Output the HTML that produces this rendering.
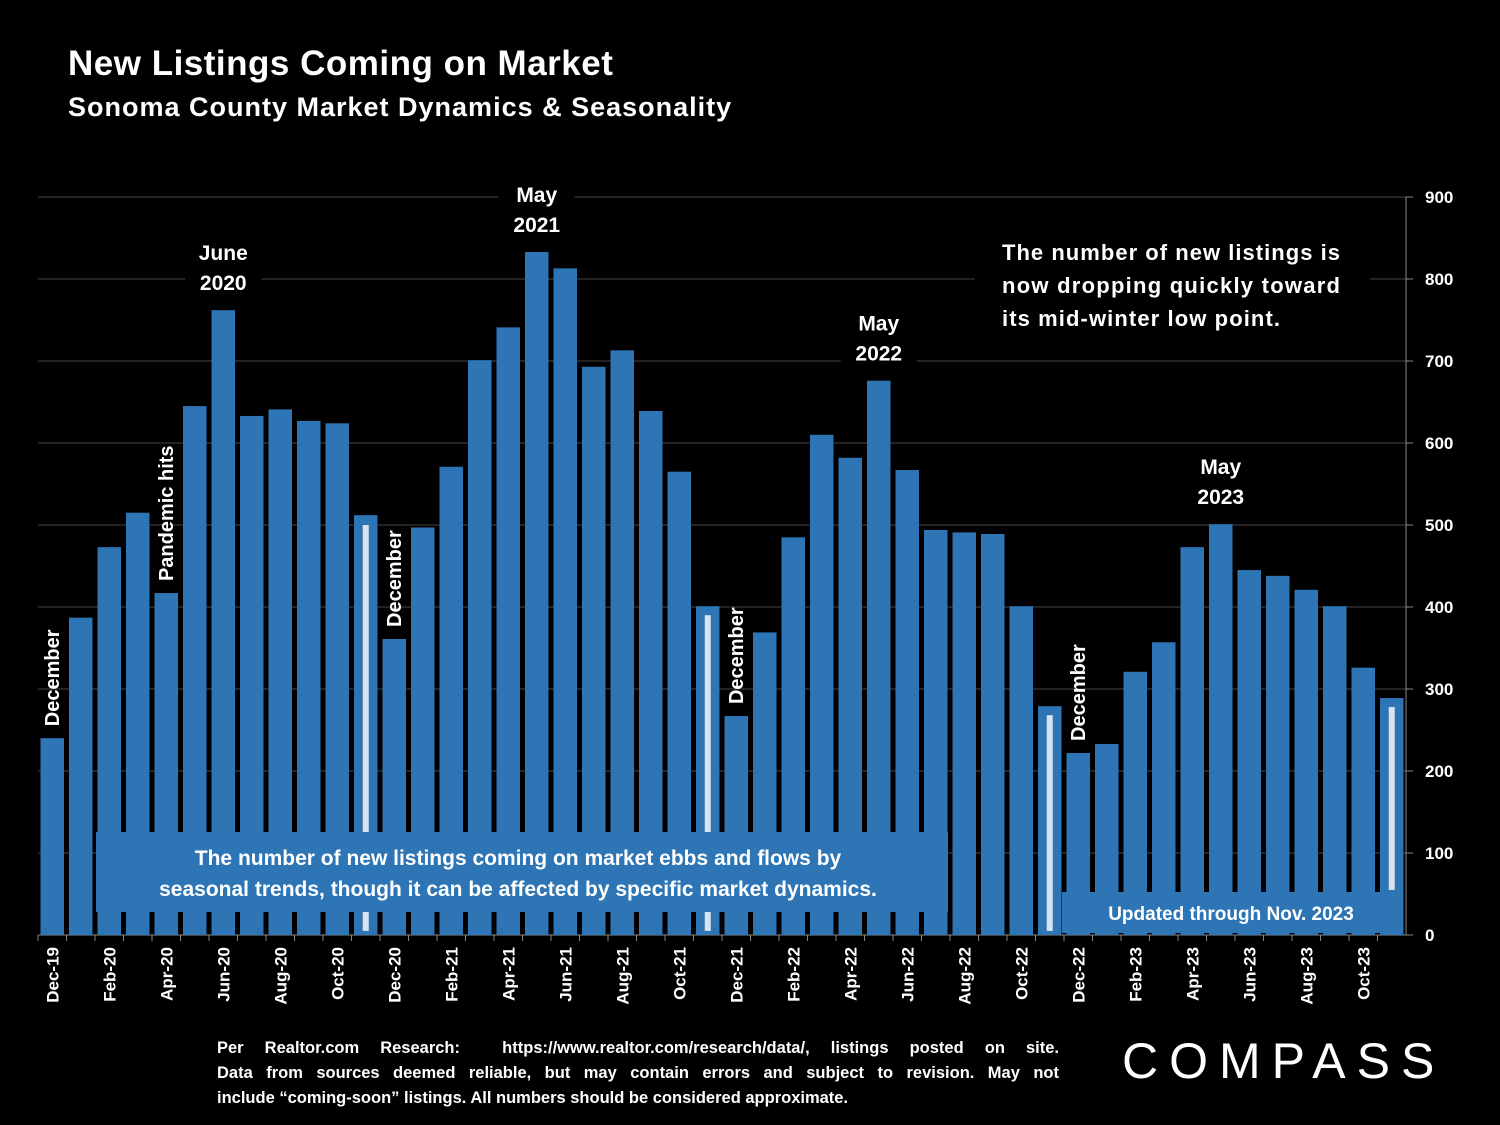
<!DOCTYPE html>
<html><head><meta charset="utf-8"><style>
body{margin:0;background:#000;width:1500px;height:1125px;overflow:hidden;font-family:"Liberation Sans",sans-serif;color:#fff}
#wrap{position:relative;width:1500px;height:1125px}
.t{position:absolute;font-weight:bold;color:#fff}
.fl{display:block;text-align:justify;text-align-last:justify;white-space:nowrap}
</style></head><body><div id="wrap">
<div class="t" style="left:68px;top:44px;font-size:35px;letter-spacing:0.5px">New Listings Coming on Market</div>
<div class="t" style="left:68px;top:92px;font-size:27px;letter-spacing:1px">Sonoma County Market Dynamics &amp; Seasonality</div>
<svg id="chart" width="1500" height="1125" style="position:absolute;left:0;top:0"></svg>
<div class="t" style="left:217px;top:1036px;width:842px;font-size:16.5px;line-height:25px">
<span class="fl">Per Realtor.com Research: &nbsp;https://www.realtor.com/research/data/, listings posted on site.</span>
<span class="fl">Data from sources deemed reliable, but may contain errors and subject to revision. May not</span>
<span style="display:block">include “coming-soon” listings. All numbers should be considered approximate.</span></div>
<div class="t" style="left:1122px;top:1032px;font-size:50px;font-weight:normal;letter-spacing:11px">COMPASS</div>
</div>
<script>
const months=["Dec-19","Jan-20","Feb-20","Mar-20","Apr-20","May-20","Jun-20","Jul-20","Aug-20","Sep-20","Oct-20","Nov-20","Dec-20","Jan-21","Feb-21","Mar-21","Apr-21","May-21","Jun-21","Jul-21","Aug-21","Sep-21","Oct-21","Nov-21","Dec-21","Jan-22","Feb-22","Mar-22","Apr-22","May-22","Jun-22","Jul-22","Aug-22","Sep-22","Oct-22","Nov-22","Dec-22","Jan-23","Feb-23","Mar-23","Apr-23","May-23","Jun-23","Jul-23","Aug-23","Sep-23","Oct-23","Nov-23"];
const values=[240,387,473,515,417,645,762,633,641,627,624,512,361,497,571,701,741,833,813,693,713,639,565,401,267,369,485,610,582,676,567,494,491,489,401,279,222,233,321,357,473,501,445,438,421,401,326,289];
const yTicks=[0,100,200,300,400,500,600,700,800,900];
const dividerMonths=["Nov-20","Nov-21","Nov-22","Nov-23"];
const dividerTops=[500,390,268,278];
const dividerBottoms=[5,5,5,55];
const notes=[["Dec-19","December",0],["Apr-20","Pandemic hits",0],["Dec-20","December",0],["Dec-21","December",0],["Dec-22","December",0]];
const peaks=[["Jun-20","June","2020"],["May-21","May","2021"],["May-22","May","2022"],["May-23","May","2023"]];
const NS="http://www.w3.org/2000/svg",svg=document.getElementById('chart');
const x0=38,x1=1406,y0=935,yMax=900,pxPer=738/900,step=(x1-x0)/months.length;
const y=v=>y0-v*pxPer, xi=m=>x0+months.indexOf(m)*step;
function el(t,a,p){const e=document.createElementNS(NS,t);for(const k in a)e.setAttribute(k,a[k]);(p||svg).appendChild(e);return e;}
yTicks.forEach(v=>{if(v>0){const g=el('line',{x1:x0,x2:x1,y1:y(v),y2:y(v),stroke:'#444','stroke-width':1});

}
const tk=el('line',{x1:x1,x2:x1+7,y1:y(v),y2:y(v),stroke:'#888'});


const t=el('text',{x:1425,y:y(v)+6,fill:'#fff','font-size':17,'font-weight':'bold','font-family':'Liberation Sans'});t.textContent=v;

});
const ax=el('line',{x1:x1,x2:x1,y1:y(900),y2:y0,stroke:'#888'});


const bx=el('line',{x1:x0,x2:x1,y1:y0,y2:y0,stroke:'#888'});


months.forEach((m,i)=>{const bx=x0+i*step;const r=el('rect',{x:bx+2.5,y:y(values[i]),width:step-5,height:values[i]*pxPer,fill:'#2e75b6'});


const tk=el('line',{x1:bx,x2:bx,y1:y0,y2:y0+6,stroke:'#888'});


if(i%2==0){const cx=bx+step/2+6,cy=y0+12;const t=el('text',{x:cx,y:cy,fill:'#fff','font-size':17,'font-weight':'bold','font-family':'Liberation Sans','text-anchor':'end',transform:`rotate(-90 ${cx} ${cy})`});t.textContent=m;

}});
dividerMonths.forEach((m,k)=>{const cx=xi(m)+step/2;const l=el('rect',{x:cx-3,y:y(dividerTops[k]),width:6,height:(dividerTops[k]-dividerBottoms[k])*pxPer,fill:'#d9e4f0'});

});
notes.forEach(n=>{const i=months.indexOf(n[0]);const cx=xi(n[0])+step/2+7,cy=y(values[i])-12;const t=el('text',{x:cx,y:cy,fill:'#fff','font-size':20,'font-weight':'bold','font-family':'Liberation Sans',transform:`rotate(-90 ${cx} ${cy})`});t.textContent=n[1];

});
peaks.forEach(p=>{const i=months.indexOf(p[0]);const cx=xi(p[0])+step/2,ty=y(values[i]);
const bg=el('rect',{x:cx-38,y:ty-72,width:76,height:64,fill:'#000'});


[p[1],p[2]].forEach((s,k)=>{const t=el('text',{x:cx,y:ty-50+k*30,fill:'#fff','font-size':21,'font-weight':'bold','font-family':'Liberation Sans','text-anchor':'middle'});t.textContent=s;

});});
const nb=el('rect',{x:975,y:230,width:395,height:110,fill:'#000'});


["The number of new listings is","now dropping quickly toward","its mid-winter low point."].forEach((s,k)=>{const t=el('text',{x:1002,y:260+k*33,fill:'#fff','font-size':22,'font-weight':'bold','font-family':'Liberation Sans','textLength':k==2?278:338});t.textContent=s;

});
const b1=el('rect',{x:96,y:832,width:852,height:80,fill:'#2e75b6'});


["The number of new listings coming on market ebbs and flows by","seasonal trends, though it can be affected by specific market dynamics."].forEach((s,k)=>{const t=el('text',{x:518,y:865+k*31,fill:'#fff','font-size':21,'font-weight':'bold','font-family':'Liberation Sans','text-anchor':'middle'});t.textContent=s;

});
const b2=el('rect',{x:1062,y:892,width:338,height:41,fill:'#2e75b6'});


const ut=el('text',{x:1231,y:920,fill:'#fff','font-size':19,'font-weight':'bold','font-family':'Liberation Sans','text-anchor':'middle'});ut.textContent="Updated through Nov. 2023";


</script></body></html>
